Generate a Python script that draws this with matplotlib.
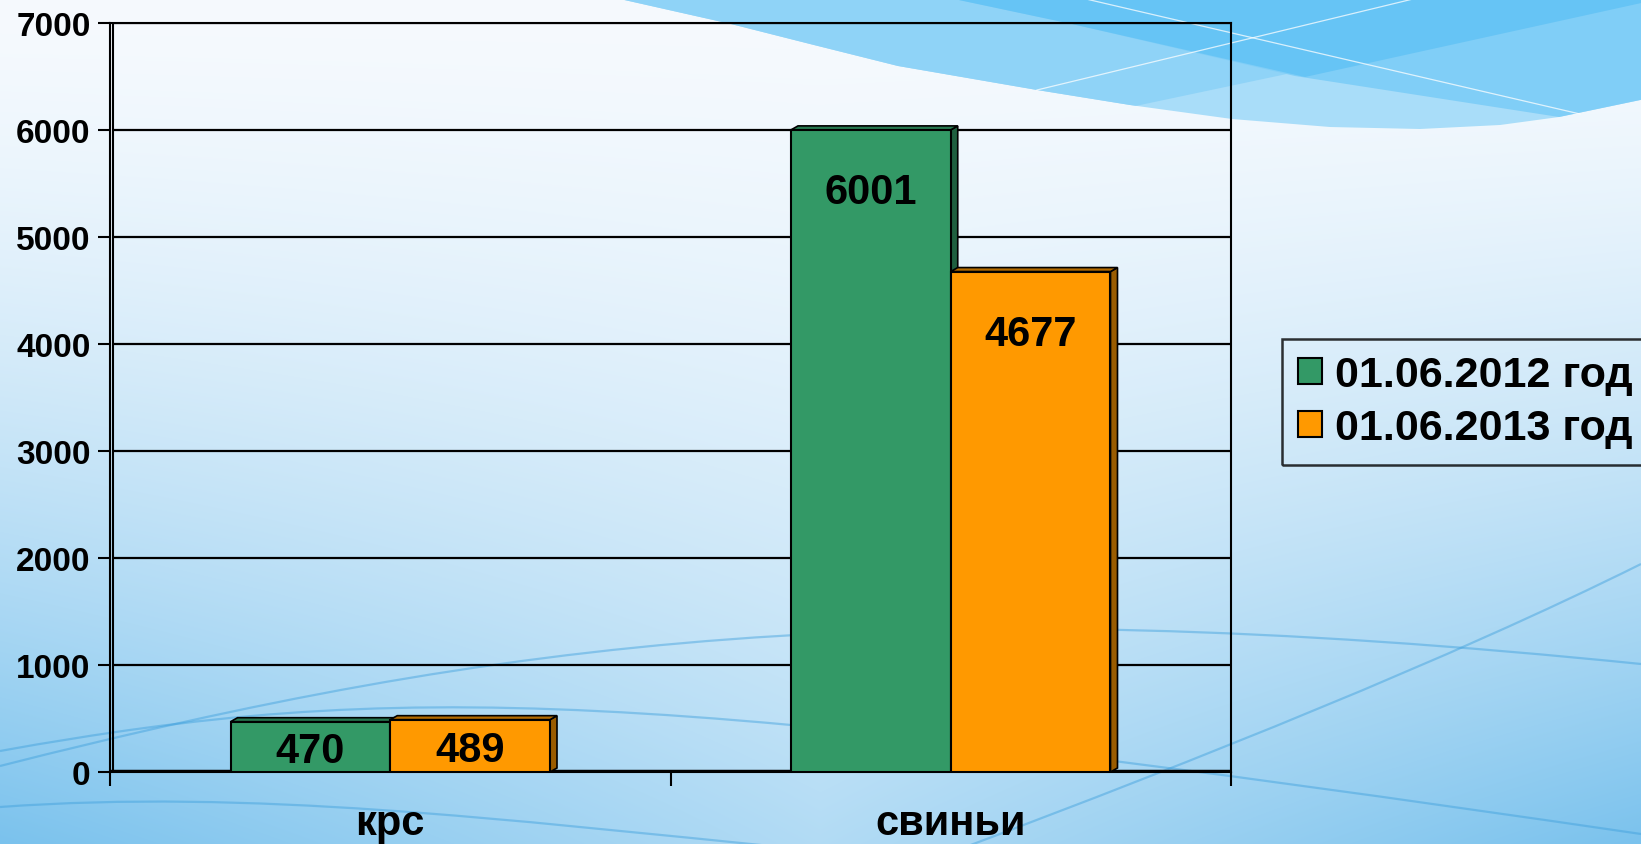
import numpy as np
import matplotlib
matplotlib.use('Agg')
import matplotlib.pyplot as plt
from matplotlib.patches import Polygon, Patch, PathPatch
from matplotlib.path import Path
from matplotlib.font_manager import FontProperties

# ---------------- data ----------------
categories = ['крс', 'свиньи']
series_names = ['01.06.2012 год', '01.06.2013 год']
values_2012 = [470, 6001]
values_2013 = [489, 4677]
y_ticks = [0, 1000, 2000, 3000, 4000, 5000, 6000, 7000]

# ---------------- style ----------------
front_colors = ['#339966', '#FF9900']
side_colors = ['#1f5f3f', '#9a5c00']
top_colors = ['#27774f', '#b36b00']
FONT = 'Liberation Sans'

W, H = 1641, 845
fig = plt.figure(figsize=(W / 100, H / 100), dpi=100)

# ---------------- background ----------------
bg = fig.add_axes([0, 0, 1, 1], zorder=-10)
yy, xx = np.mgrid[0:H, 0:W]
w = (yy / H) ** 1.5 * (0.55 + 0.45 * np.abs(xx - 820) / 820)
w = np.clip(w, 0, 1)[..., None]
c0 = np.array([246, 250, 254]) / 255
c1 = np.array([122, 194, 237]) / 255
bg.imshow(c0 * (1 - w) + c1 * w, extent=(0, W, H, 0), aspect='auto', interpolation='bilinear')
bg.set_xlim(0, W)
bg.set_ylim(H, 0)
bg.axis('off')

# top-right swoosh (decoration)
swoosh_pts = [(610, -5), (620, 0), (731, 25), (810, 45), (898, 67), (1037, 91), (1130, 106),
              (1232, 120), (1330, 128), (1420, 130), (1500, 126), (1559, 118), (1645, 100),
              (1645, -5)]
swoosh = Polygon(swoosh_pts, closed=True, facecolor='#a9ddf9', edgecolor='none')
bg.add_patch(swoosh)
left_of_l2 = Polygon([(-100, -100), (2114, -100), (223, 300), (-100, 300)], closed=True,
                     facecolor='#8fd3f7', edgecolor='none')
above_l1 = Polygon([(-100, -100), (940, -100), (940, -3), (1072, 25), (1295, 77), (1559, 118),
                    (1700, 135), (1700, -100)], closed=True,
                   facecolor='#80cef7', edgecolor='none')
for p in (left_of_l2, above_l1):
    bg.add_patch(p)
    p.set_clip_path(swoosh)
both = Polygon([(940, -100), (940, -3), (1072, 25), (1305, 78), (2114, -100)], closed=True,
               facecolor='#66c4f5', edgecolor='none')
bg.add_patch(both)
both.set_clip_path(swoosh)
for (xa, ya), (xb, yb) in [((1086, 0), (1580, 115)), ((1037, 91), (1413, 0))]:
    bg.plot([xa, xb], [ya, yb], color='white', lw=0.9, alpha=0.75)

# faint curves in lower area
curves = [
    [(0, 808), (250, 790), (500, 820), (800, 850)],
    [(0, 752), (400, 680), (650, 690), (1641, 835)],
    [(0, 767), (500, 640), (900, 590), (1641, 665)],
    [(960, 850), (1200, 760), (1450, 660), (1641, 565)],
]
for pts in curves:
    path = Path(pts, [Path.MOVETO, Path.CURVE4, Path.CURVE4, Path.CURVE4])
    bg.add_patch(PathPatch(path, facecolor='none', edgecolor='#3d9fdc', lw=1.6, alpha=0.45))

# ---------------- main axes ----------------
ax_l, ax_r, ax_t, ax_b = 110, 1231, 24, 773
ax = fig.add_axes([ax_l / W, (H - ax_b) / H, (ax_r - ax_l) / W, (ax_b - ax_t) / H])
ax.patch.set_alpha(0)
ax.set_xlim(-0.5, len(categories) - 0.5)
ax.set_ylim(0, 7000)

px_x = (len(categories)) / (ax_r - ax_l)   # data units per pixel (x)
px_y = 7000 / (ax_b - ax_t)                # data units per pixel (y)
ddx, ddy = 7 * px_x, 4 * px_y

x = np.arange(len(categories))
bw = 0.285
for i, vals in enumerate([values_2012, values_2013]):
    xs = x + (i - 0.5) * bw
    ax.bar(xs, vals, bw, color=front_colors[i], edgecolor='black', linewidth=1.5, zorder=3,
           label=series_names[i])
    for xc, v in zip(xs, vals):
        xl, xr = xc - bw / 2, xc + bw / 2
        side = Polygon([(xr, 0), (xr + ddx, ddy), (xr + ddx, v + ddy), (xr, v)], closed=True,
                       facecolor=side_colors[i], edgecolor='black', lw=1.2, zorder=2)
        top = Polygon([(xl, v), (xl + ddx, v + ddy), (xr + ddx, v + ddy), (xr, v)], closed=True,
                      facecolor=top_colors[i], edgecolor='black', lw=1.2, zorder=2)
        ax.add_patch(side)
        ax.add_patch(top)
        off = min(v / 2, 58 * px_y)
        ax.text(xc, v - off - 15 * px_y, str(v), ha='center', va='baseline',
                fontsize=30, fontweight='bold', family=FONT, zorder=5)

# grid / walls
for t in y_ticks[1:]:
    ax.plot([-0.5 + 3 * px_x, len(categories) - 0.5], [t, t], color='black', lw=1.6, zorder=1,
            solid_capstyle='butt')
ax.plot([-0.5 + 3 * px_x, -0.5 + 3 * px_x], [0, 7000], color='black', lw=1.5, zorder=1)
ax.plot([-0.5, len(categories) - 0.5], [0, 0], color='black', lw=3.2, zorder=1,
        solid_capstyle='butt')

for s in ax.spines.values():
    s.set_linewidth(1.5)
    s.set_color('black')

ax.set_yticks(y_ticks)
ax.set_yticklabels([str(t) for t in y_ticks], fontsize=24, fontweight='bold', family=FONT)
ax.tick_params(axis='y', direction='out', length=9, width=1.5, pad=5)
ax.set_xticks(np.arange(len(categories) + 1) - 0.5)
ax.set_xticklabels([])
ax.tick_params(axis='x', direction='out', length=10, width=1.5)

for xc, name in zip(x, categories):
    ax.text(xc, -62 / (ax_b - ax_t), name, transform=ax.get_xaxis_transform(),
            ha='center', va='baseline', fontsize=30, fontweight='bold', family=FONT)

# legend
handles = [Patch(facecolor=front_colors[i], edgecolor='black', linewidth=1.5) for i in range(2)]
leg = fig.legend(handles, series_names, loc='upper left',
                 bbox_to_anchor=(1282 / W, 1 - 340 / H), borderaxespad=0,
                 prop=FontProperties(family=FONT, weight='bold', size=31),
                 frameon=True, fancybox=False, edgecolor='black',
                 borderpad=0.38, handlelength=0.56, handleheight=0.56,
                 handletextpad=0.3, labelspacing=0.3)
leg.get_frame().set_linewidth(1.8)
leg.get_frame().set_facecolor('none')

fig.savefig('out.png', dpi=100)
